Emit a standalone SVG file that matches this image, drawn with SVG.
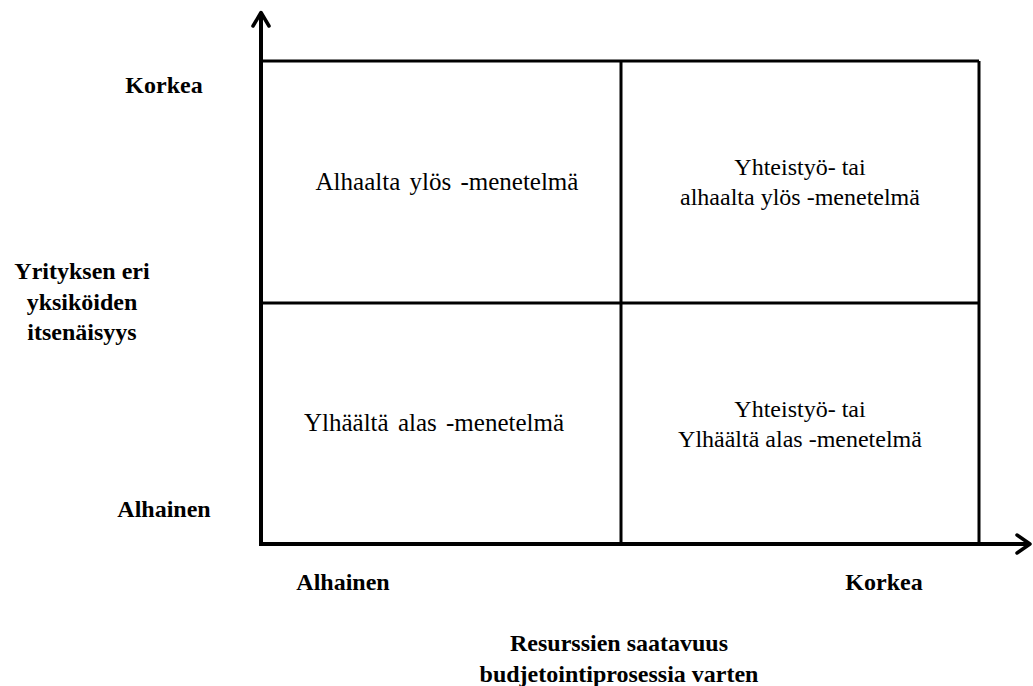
<svg xmlns="http://www.w3.org/2000/svg" width="1033" height="686" viewBox="0 0 1033 686">
  <style>
    .reg { font-family: "Liberation Serif", "Times New Roman", "DejaVu Serif", serif; font-size: 24px; fill: #000; text-anchor: middle; }
    .wide { font-size: 25px; word-spacing: 3px; }
    .bold { font-family: "Liberation Serif", "Times New Roman", "DejaVu Serif", serif; font-size: 24px; font-weight: bold; fill: #000; text-anchor: middle; }
    .grid { stroke: #000; stroke-width: 3; fill: none; }
    .axis { stroke: #000; stroke-width: 4; fill: none; }
    .head { stroke: #000; stroke-width: 3.5; fill: none; stroke-linecap: round; stroke-linejoin: round; }
  </style>
  <rect width="1033" height="686" fill="#fff"/>

  <g id="matrix">
    <line class="grid" x1="261" y1="61" x2="979" y2="61"/>
    <line class="grid" x1="979" y1="61" x2="979" y2="544"/>
    <line class="grid" x1="621" y1="61" x2="621" y2="544"/>
    <line class="grid" x1="261" y1="303" x2="979" y2="303"/>
  </g>

  <g id="connectors">
    <line class="axis" x1="261" y1="546" x2="261" y2="14"/>
    <polyline class="head" points="253,26 261,12.5 269,26"/>
    <line class="axis" x1="259" y1="544" x2="1029" y2="544"/>
    <polyline class="head" points="1017,535 1030,544 1017,553"/>
  </g>

  <g id="cell-top-left">
    <text class="reg wide" x="447" y="190">Alhaalta ylös -menetelmä</text>
  </g>
  <g id="cell-top-right">
    <text class="reg" x="800" y="175">Yhteistyö- tai</text>
    <text class="reg" x="800" y="205">alhaalta ylös -menetelmä</text>
  </g>
  <g id="cell-bottom-left">
    <text class="reg wide" x="434" y="431">Ylhäältä alas -menetelmä</text>
  </g>
  <g id="cell-bottom-right">
    <text class="reg" x="800" y="417">Yhteistyö- tai</text>
    <text class="reg" x="800" y="447">Ylhäältä alas -menetelmä</text>
  </g>

  <g id="y-label-high">
    <text class="bold" x="164" y="93">Korkea</text>
  </g>
  <g id="y-axis-title">
    <text class="bold" x="82" y="279">Yrityksen eri</text>
    <text class="bold" x="82" y="310">yksiköiden</text>
    <text class="bold" x="82" y="340">itsenäisyys</text>
  </g>
  <g id="y-label-low">
    <text class="bold" x="164" y="517">Alhainen</text>
  </g>
  <g id="x-label-low">
    <text class="bold" x="343" y="590">Alhainen</text>
  </g>
  <g id="x-label-high">
    <text class="bold" x="884" y="590">Korkea</text>
  </g>
  <g id="x-axis-title">
    <text class="bold" x="619" y="651">Resurssien saatavuus</text>
    <text class="bold" x="619" y="682">budjetointiprosessia varten</text>
  </g>
</svg>
